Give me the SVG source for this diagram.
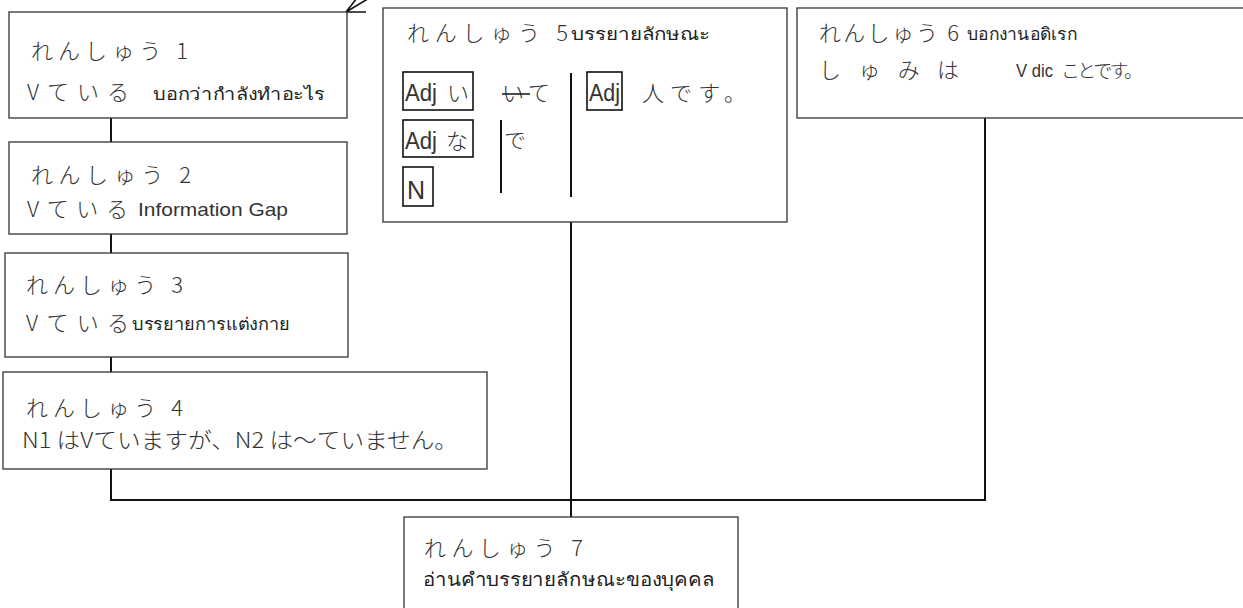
<svg xmlns="http://www.w3.org/2000/svg" width="1243" height="608" viewBox="0 0 1243 608">
<style>
.box{fill:#fff;stroke:#333;stroke-width:1.3}
.ib{fill:none;stroke:#111;stroke-width:1.6}
.jp{font-family:"Noto Sans CJK JP","Noto Sans CJK SC",sans-serif;font-weight:300;font-size:22px;fill:#333}
.th{font-family:"Noto Sans","DejaVu Sans","Liberation Sans",sans-serif;font-weight:300;font-size:17px;fill:#222}
.en{font-family:"Liberation Sans",Arial,sans-serif;font-size:17px;fill:#333}
.adj{font-family:"Liberation Sans",Arial,sans-serif;font-size:23px;fill:#333}
.con{stroke:#111;stroke-width:2;fill:none}
.vl{stroke:#111;stroke-width:2}
</style>
<rect width="1243" height="608" fill="#fff"/>
<g id="connectors">
<line class="con" x1="111" y1="118" x2="111" y2="142"/>
<line class="con" x1="111" y1="234" x2="111" y2="254"/>
<line class="con" x1="111" y1="357" x2="111" y2="372"/>
<polyline class="con" points="111,469 111,500 985,500 985,118"/>
<line class="con" x1="571" y1="222" x2="571" y2="517"/>
<path d="M346,12 L376,-6 M346,12 L366,12 M346,12 L357,-2" stroke="#111" stroke-width="1.6" fill="none"/>
</g>
<g id="node1">
<rect class="box" x="9" y="12" width="338" height="106"/>
<text class="jp" x="31" y="59" textLength="157" lengthAdjust="spacing">れんしゅう 1</text>
<text class="jp" x="27" y="100" textLength="102" lengthAdjust="spacing">Vている</text>
<text class="th" x="153" y="100" textLength="172" lengthAdjust="spacingAndGlyphs">บอกว่ากำลังทำอะไร</text>
</g>
<g id="node2">
<rect class="box" x="9" y="142" width="338" height="92"/>
<text class="jp" x="31" y="183" textLength="160" lengthAdjust="spacing">れんしゅう 2</text>
<text class="jp" x="27" y="217" textLength="101" lengthAdjust="spacing">Vている</text>
<text class="en" x="138" y="216" textLength="150" lengthAdjust="spacingAndGlyphs" style="font-size:19px">Information Gap</text>
</g>
<g id="node3">
<rect class="box" x="5" y="253" width="343" height="104"/>
<text class="jp" x="26" y="293" textLength="157" lengthAdjust="spacing">れんしゅう 3</text>
<text class="jp" x="26" y="331" textLength="103" lengthAdjust="spacing">Vている</text>
<text class="th" x="132" y="330" textLength="158" lengthAdjust="spacingAndGlyphs">บรรยายการแต่งกาย</text>
</g>
<g id="node4">
<rect class="box" x="3" y="372" width="484" height="97"/>
<text class="jp" x="26" y="416" textLength="157" lengthAdjust="spacing">れんしゅう 4</text>
<text class="jp" x="22" y="448" textLength="436" lengthAdjust="spacingAndGlyphs">N1 はVていますが、N2 は〜ていません。</text>
</g>
<g id="node5">
<rect class="box" x="383" y="8" width="404" height="214"/>
<text class="jp" x="407" y="41" textLength="161" lengthAdjust="spacing">れんしゅう 5</text>
<text class="th" x="571" y="40" textLength="139" lengthAdjust="spacingAndGlyphs">บรรยายลักษณะ</text>
<rect class="ib" x="403" y="72" width="70" height="38"/>
<text class="adj" x="405" y="101" textLength="32" lengthAdjust="spacingAndGlyphs">Adj</text>
<text class="jp" x="447" y="101">い</text>
<text class="jp" x="502" y="101" textLength="48" lengthAdjust="spacing">いて</text>
<line x1="502" y1="94" x2="530" y2="94" stroke="#111" stroke-width="1.5"/>
<rect class="ib" x="587" y="72" width="35" height="38"/>
<text class="adj" x="589" y="101" textLength="31" lengthAdjust="spacingAndGlyphs">Adj</text>
<text class="jp" x="642" y="101" textLength="104" lengthAdjust="spacing">人です。</text>
<rect class="ib" x="403" y="120" width="70" height="37"/>
<text class="adj" x="405" y="149" textLength="32" lengthAdjust="spacingAndGlyphs">Adj</text>
<text class="jp" x="446" y="149">な</text>
<line class="vl" x1="501" y1="120" x2="501" y2="193"/>
<text class="jp" x="504" y="148">で</text>
<rect class="ib" x="403" y="167" width="30" height="39"/>
<text class="adj" x="407" y="199" style="font-size:25px">N</text>
<line class="vl" x1="571" y1="73" x2="571" y2="197"/>
</g>
<g id="node6">
<rect class="box" x="797" y="8" width="460" height="110"/>
<text class="jp" x="819" y="41" textLength="140" lengthAdjust="spacing">れんしゅう 6</text>
<text class="th" x="967" y="40" textLength="110" lengthAdjust="spacingAndGlyphs">บอกงานอดิเรก</text>
<text class="jp" x="819" y="78" textLength="140" lengthAdjust="spacing">しゅみは</text>
<text class="en" x="1016" y="77" textLength="37" lengthAdjust="spacingAndGlyphs" style="font-size:19px">V dic</text>
<text class="jp" x="1061" y="78" textLength="82" lengthAdjust="spacing" style="font-size:19px">ことです。</text>
</g>
<g id="node7">
<rect class="box" x="404" y="517" width="334" height="100"/>
<text class="jp" x="424" y="556" textLength="159" lengthAdjust="spacing">れんしゅう 7</text>
<text class="th" x="423" y="586" textLength="292" lengthAdjust="spacingAndGlyphs" style="font-size:19px">อ่านคำบรรยายลักษณะของบุคคล</text>
</g>
</svg>
